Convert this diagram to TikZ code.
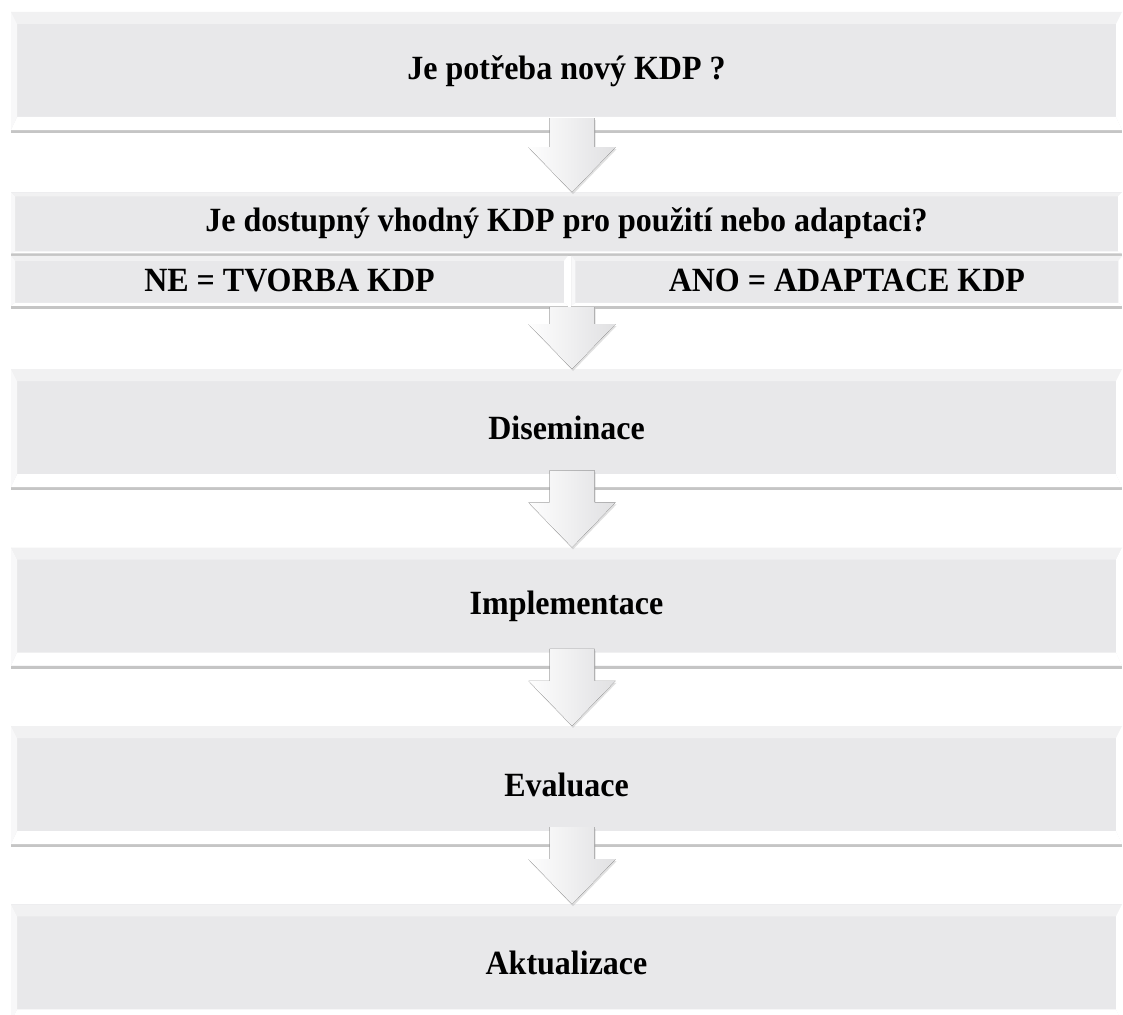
\documentclass[tikz,border=0pt]{standalone}
\usepackage{fontspec}
\setmainfont{Liberation Serif}
\usetikzlibrary{
	positioning,
	calc,
	shadows
}

\definecolor{stagegray}{RGB}{232,232,234}
\definecolor{bevelgray}{RGB}{241,241,242}
\definecolor{arrowgray}{RGB}{224,224,226}

\newcommand{\tall}[1]{\scalebox{1}[1.06]{#1}}

% block arrow from the bottom of one box to the top of the next
\newcommand{\stagearrow}[3][12pt]{%
	\path ($(#2.south -| axis)+(0,#1)$) coordinate (tail)
	      (#3.north -| axis) coordinate (tip);
	\fill[flowarrow] ([xshift=-22.5pt]tail) -- ([xshift=22.5pt]tail)
		-- ([shift={(22.5pt,45pt)}]tip) -- ([shift={(43.5pt,45pt)}]tip)
		-- (tip)
		-- ([shift={(-43.5pt,45pt)}]tip) -- ([shift={(-22.5pt,45pt)}]tip)
		-- cycle;}

\tikzset{
	bevel top/.store in=\beveltop,
	bevel bottom/.store in=\bevelbot,
	bevel side/.store in=\bevelside,
	bevel top=12pt, bevel bottom=13pt, bevel side=6pt,
	bevelled/.style={
		rectangle,
		fill=stagegray,
		inner sep=0pt,
		font=\fontsize{32}{38}\selectfont\bfseries,
		drop shadow={shadow xshift=0pt, shadow yshift=-3pt, fill=black!45, opacity=.5},
		path picture={
			\coordinate (p-sw) at (path picture bounding box.south west);
			\coordinate (p-se) at (path picture bounding box.south east);
			\coordinate (p-nw) at (path picture bounding box.north west);
			\coordinate (p-ne) at (path picture bounding box.north east);
			\fill[bevelgray] (p-nw) -- (p-ne) -- ([shift={(-\bevelside,-\beveltop)}]p-ne)
				-- ([shift={(\bevelside,-\beveltop)}]p-nw) -- cycle;
			\fill[white] (p-sw) -- (p-se) -- ([shift={(-\bevelside,\bevelbot)}]p-se)
				-- ([shift={(\bevelside,\bevelbot)}]p-sw) -- cycle;
			\fill[white!70!stagegray] (p-sw) -- (p-nw) -- ([shift={(\bevelside,-\beveltop)}]p-nw)
				-- ([shift={(\bevelside,\bevelbot)}]p-sw) -- cycle;
			\fill[white] (p-se) -- (p-ne) -- ([shift={(-\bevelside,-\beveltop)}]p-ne)
				-- ([shift={(-\bevelside,\bevelbot)}]p-se) -- cycle;
		}
	},
	stage/.style={
		bevelled,
		minimum width=1111pt,
		minimum height=118pt
	},
	question/.style={
		bevelled,
		bevel top=4pt, bevel bottom=2pt, bevel side=4pt,
		minimum width=1111pt,
		minimum height=61pt
	},
	answer/.style={
		bevelled,
		bevel top=5pt, bevel bottom=3pt, bevel side=4pt,
		minimum height=50pt
	},
	flowarrow/.style={
		left color=white!96!arrowgray,
		right color=arrowgray,
		drop shadow={shadow xshift=1pt, shadow yshift=-2pt, fill=black!40, opacity=.3}
	}
}

\begin{document}
\begin{tikzpicture}[x=1pt,y=1pt,node distance=60pt]
	\useasboundingbox (0,0) rectangle (1123,-1014);
	\fill[white] (0,0) rectangle (1123,-1014);
	\coordinate (axis) at (572,0);

	\node[stage] (need) at (566.5,-71)
	{\tall{Je potřeba nový KDP ?}};

	\node[question,below=62pt of need] (avail)
	{\tall{Je dostupný vhodný KDP pro použití nebo adaptaci?}};

	\node[answer,minimum width=557pt,anchor=north west] (no)
		at ($(avail.south west)+(0,-2pt)$)
	{\tall{NE = TVORBA KDP}};

	\node[answer,minimum width=551pt,right=3pt of no] (yes)
	{\tall{ANO = ADAPTACE KDP}};

	\node[stage,anchor=north] (dissem)
		at ($(no.south -| need.south)+(0,-63pt)$)
	{\tall{Diseminace}};

	\node[stage,below=of dissem] (impl)
	{\tall{Implementace}};

	\node[stage,below=of impl] (eval)
	{\tall{Evaluace}};

	\node[stage,below=of eval] (update)
	{\tall{Aktualizace}};

	\stagearrow{need}{avail}
	\stagearrow[-1pt]{no}{dissem}
	\stagearrow[17pt]{dissem}{impl}
	\stagearrow[17pt]{impl}{eval}
	\stagearrow[17pt]{eval}{update}

\end{tikzpicture}
\end{document}
